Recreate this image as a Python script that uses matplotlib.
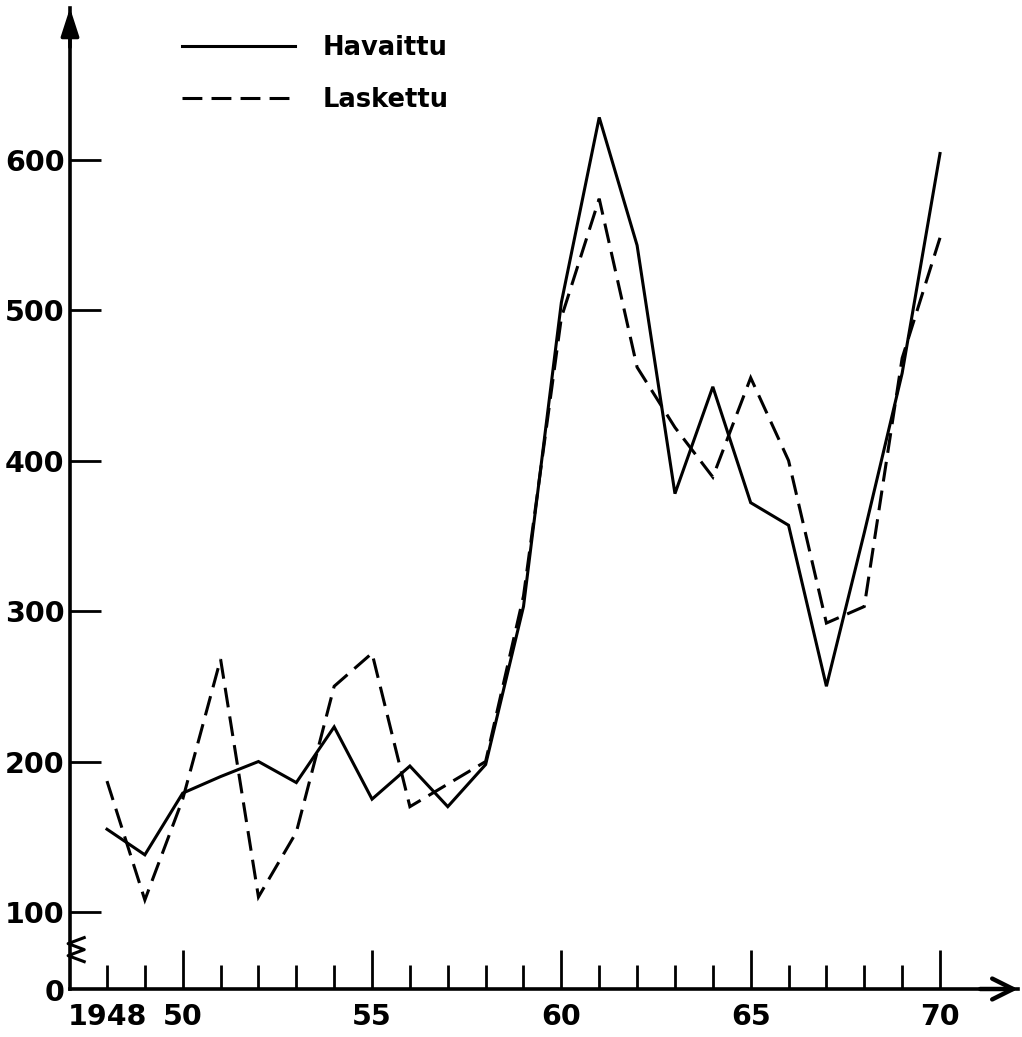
import matplotlib.pyplot as plt
from matplotlib.ticker import FixedLocator, FuncFormatter
import matplotlib.transforms as mtransforms

# observed vs computed yearly series
years = list(range(1948, 1971))
havaittu = [155, 138, 179, 190, 200, 186, 223, 175, 197, 170, 198, 303,
            505, 628, 543, 378, 449, 372, 357, 250, 352, 458, 604]
laskettu = [187, 108, 175, 268, 110, 153, 250, 272, 170, 185, 200, 310,
            495, 574, 462, 422, 389, 455, 400, 292, 303, 468, 548]

y_ticks = [100, 200, 300, 400, 500, 600]
x_major = [1950, 1955, 1960, 1965, 1970]
x_major_labels = ["50", "55", "60", "65", "70"]

plt.rcParams["font.family"] = "DejaVu Sans"
plt.rcParams["font.weight"] = "bold"

fig = plt.figure(figsize=(10.22, 10.37), dpi=100)
ax = fig.add_axes([70 / 1022, 48 / 1037, 948 / 1022, 981 / 1037])

lw = 2.2
ax.plot(years, havaittu, color="black", lw=lw, label="Havaittu",
        solid_joinstyle="miter")
ax.plot(years, laskettu, color="black", lw=lw, ls=(0, (6.5, 3)),
        label="Laskettu", dash_joinstyle="miter")

ax.set_xlim(1947.023, 1972.06)
ax.set_ylim(48.84, 700.7)

for side in ("top", "right"):
    ax.spines[side].set_visible(False)
for side in ("left", "bottom"):
    ax.spines[side].set_linewidth(2.6)

# y axis: inward ticks, the axis line stands for 0 below the break
ax.yaxis.set_major_locator(FixedLocator(y_ticks))
ax.tick_params(axis="y", direction="in", length=22, width=2.0,
               labelsize=20.5, pad=4)
ax.text(-0.006, 46, "0", transform=mtransforms.blended_transform_factory(
    ax.transAxes, ax.transData), ha="right", va="center", fontsize=20.5,
    fontweight="bold")

# x axis: long ticks every five years, short ticks in between
ax.xaxis.set_major_locator(FixedLocator(x_major))
ax.xaxis.set_major_formatter(FuncFormatter(
    lambda v, p: x_major_labels[x_major.index(int(round(v)))]))
ax.xaxis.set_minor_locator(FixedLocator([y for y in years if y not in x_major]))
ax.xaxis.set_minor_formatter(FuncFormatter(
    lambda v, p: "1948" if int(round(v)) == 1948 else ""))
ax.tick_params(axis="x", which="major", direction="in", length=28, width=2.0,
               labelsize=20.5, pad=10)
ax.tick_params(axis="x", which="minor", direction="in", length=17, width=2.0,
               labelsize=20.5, pad=10)

# arrow heads on both axes
ax.annotate("", xy=(0, 1.0), xytext=(0, 0.96), xycoords="axes fraction",
            arrowprops=dict(arrowstyle="-|>,head_length=1.7,head_width=0.55",
                            color="black", lw=2.6, shrinkA=0, shrinkB=0),
            annotation_clip=False)
ax.annotate("", xy=(1.0, 0), xytext=(0.96, 0), xycoords="axes fraction",
            arrowprops=dict(arrowstyle="->,head_length=1.5,head_width=0.75",
                            color="black", lw=3.2, shrinkA=0, shrinkB=0),
            annotation_clip=False)

# break mark on the y axis between 0 and 100
brk = mtransforms.blended_transform_factory(ax.transAxes, ax.transData)
ax.plot([0.015, -0.002, 0.015, -0.002, 0.015], [83, 79, 75, 71, 67],
        color="black", lw=2.2, transform=brk, clip_on=False)

ax.legend(loc="upper left", bbox_to_anchor=(0.107, 0.983), frameon=False,
          fontsize=18.5, handlelength=4.4, handletextpad=1.1,
          labelspacing=1.0, borderaxespad=0)

fig.savefig("out.png", dpi=100)
